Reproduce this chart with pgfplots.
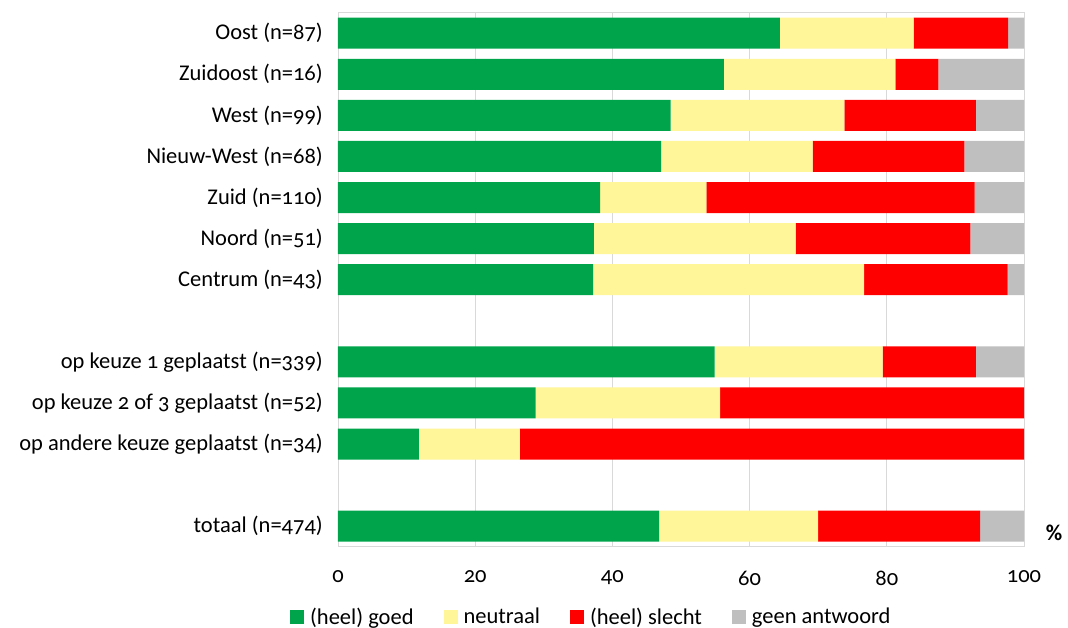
\documentclass[border=0pt]{standalone}
\usepackage{pgfplots}
\pgfplotsset{compat=1.18}
\usepackage{fontspec}
\setmainfont{Carlito}[Numbers=OldStyle]
\definecolor{cgoed}{HTML}{00A44A}
\definecolor{cneutraal}{HTML}{FFF599}
\definecolor{cslecht}{HTML}{FF0000}
\definecolor{cgeen}{HTML}{BFBFBF}
\definecolor{cgrid}{HTML}{D9D9D9}
\newcommand\chartfont{\fontsize{22.5bp}{26bp}\selectfont}

\begin{document}
\begin{tikzpicture}
\begin{axis}[
    name=main,
    at={(0,0)}, anchor=south west,
    scale only axis,
    width=686bp, height=534bp,
    xbar stacked,
    bar width=31bp,
    y dir=reverse,
    xmin=0, xmax=100,
    ymin=-0.5, ymax=12.5,
    xtick={0,20,...,100},
    ytick={0,1,2,3,4,5,6,8,9,10,12},
    yticklabels={Oost (n=87),Zuidoost (n=16),West (n=99),Nieuw-West (n=68),Zuid (n=110),Noord (n=51),Centrum (n=43),op keuze 1 geplaatst (n=339),op keuze 2 of 3 geplaatst (n=52),op andere keuze geplaatst (n=34),totaal (n=474)},
    major tick length=0pt,
    tick style={draw=none},
    xmajorgrids,
    grid style={draw=cgrid, line width=0.8bp},
    axis line style={draw=cgrid, line width=0.8bp},
    tick label style={font=\chartfont, text=black},
    /pgf/number format/assume math mode=true,
    yticklabel style={inner sep=0pt, xshift=-15bp},
    xticklabel style={inner sep=0pt, yshift=-24bp},
    legend style={at={(-0.07,-0.131)}, anchor=west, draw=none, fill=none,
        legend columns=-1, font=\chartfont,
        /tikz/every even column/.append style={column sep=28bp},
        /tikz/every odd column/.append style={column sep=4bp},
        inner sep=0pt},
    legend image code/.code={\fill[#1] (0bp,-7bp) rectangle (14bp,7bp);},
    every axis plot/.append style={draw=none},
]
\addplot[fill=cgoed] table[x=a, y=y] {
y a
0 64.4
1 56.25
2 48.5
3 47.1
4 38.2
5 37.3
6 37.2
8 54.9
9 28.8
10 11.8
12 46.8
};
\addplot[fill=cneutraal] table[x=b, y=y] {
y b
0 19.5
1 25.0
2 25.3
3 22.1
4 15.5
5 29.4
6 39.5
8 24.5
9 26.9
10 14.7
12 23.2
};
\addplot[fill=cslecht] table[x=c, y=y] {
y c
0 13.8
1 6.25
2 19.2
3 22.1
4 39.1
5 25.5
6 20.9
8 13.6
9 44.3
10 73.5
12 23.6
};
\addplot[fill=cgeen] table[x=d, y=y] {
y d
0 2.3
1 12.5
2 7.0
3 8.7
4 7.2
5 7.8
6 2.4
8 7.0
9 0
10 0
12 6.4
};
\legend{(heel) goed, neutraal, (heel) slecht, geen antwoord}
\end{axis}
\node[anchor=center, font=\bfseries\chartfont] at ([xshift=30bp, yshift=14bp]main.south east) {\%};
\pgfresetboundingbox
\path (-338bp,-81bp) rectangle (730bp,546.7bp);
\end{tikzpicture}
\end{document}
